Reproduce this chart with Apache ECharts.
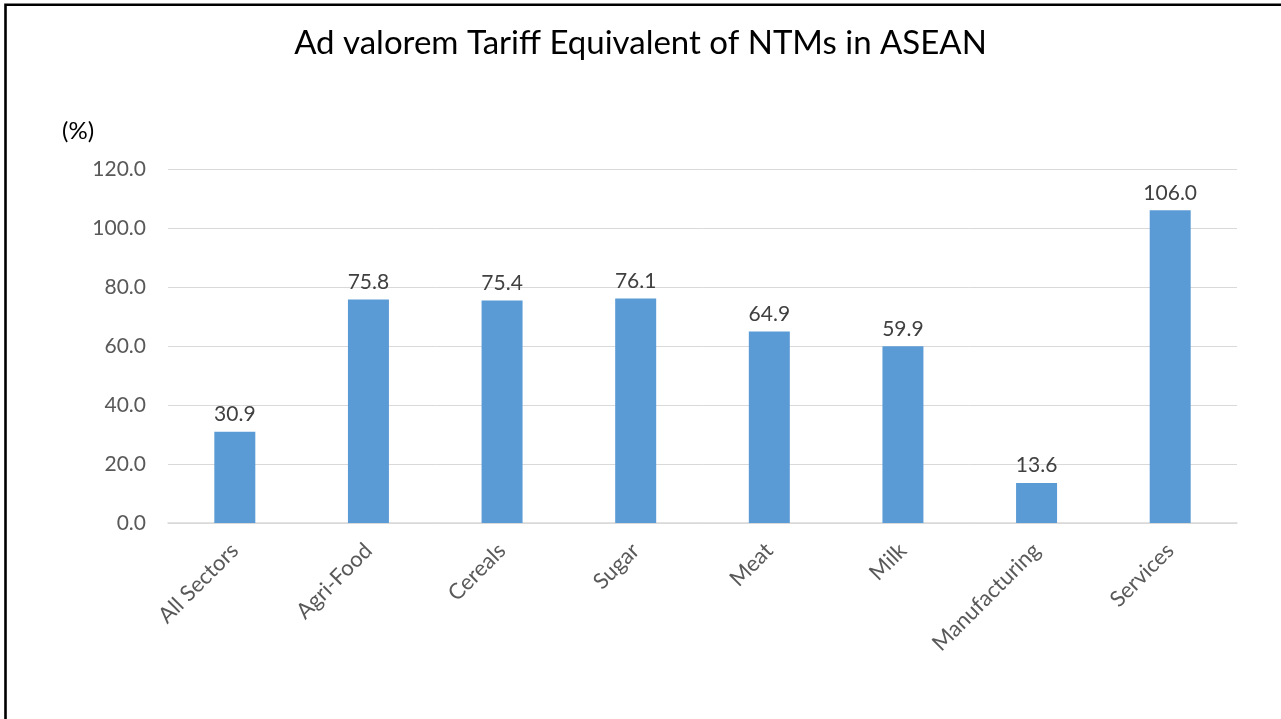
<!DOCTYPE html>
<html>
<head>
<meta charset="utf-8">
<script src="https://cdn.jsdelivr.net/npm/echarts@6/dist/echarts.min.js"></script>
<style>html,body{margin:0;padding:0;background:#fff}#c{width:1281px;height:719px}</style>
</head>
<body>
<div id="c"></div>
<script>
const titleText = 'Ad valorem Tariff Equivalent of NTMs in ASEAN';
const categories = ['All Sectors', 'Agri-Food', 'Cereals', 'Sugar', 'Meat', 'Milk', 'Manufacturing', 'Services'];
const values = [30.9, 75.8, 75.4, 76.1, 64.9, 59.9, 13.6, 106.0];
const yMin = 0, yMax = 120, yStep = 20;
const unitLabel = '(%)';

const FONT = 'Lato, "Open Sans", sans-serif';
const chart = echarts.init(document.getElementById('c'), null, {renderer: 'canvas'});
chart.setOption({
  backgroundColor: '#ffffff',
  animation: false,
  title: {
    text: titleText,
    left: 'center',
    top: 22,
    textStyle: {fontFamily: FONT, fontSize: 33, fontWeight: 'normal', color: '#000000'}
  },
  graphic: [
    {type: 'rect', shape: {x: 5.5, y: 4.7, width: 1400, height: 900},
     style: {fill: 'none', stroke: '#000000', lineWidth: 2.6}, silent: true},
    {type: 'text', left: 62, top: 119,
     style: {text: unitLabel, fontFamily: FONT, fontSize: 24, fill: '#000000'}}
  ],
  grid: {left: 168, right: 44, top: 169, bottom: 196, containLabel: false},
  xAxis: {
    type: 'category',
    data: categories,
    axisLine: {show: true, lineStyle: {color: '#D9D9D9', width: 1.5}},
    axisTick: {show: false},
    axisLabel: {rotate: 45, margin: 24, fontFamily: FONT, fontSize: 22, color: '#595959', interval: 0}
  },
  yAxis: {
    type: 'value',
    min: yMin, max: yMax, interval: yStep,
    axisLine: {show: false},
    axisTick: {show: false},
    splitLine: {lineStyle: {color: '#D9D9D9', width: 1}},
    axisLabel: {margin: 22, fontFamily: FONT, fontSize: 21, color: '#595959',
      formatter: v => v.toFixed(1)}
  },
  series: [{
    type: 'bar',
    data: values,
    barWidth: 41,
    itemStyle: {color: '#5B9BD5'},
    label: {show: true, position: 'top', distance: 7, fontFamily: FONT, fontSize: 21, color: '#404040',
      formatter: p => p.value.toFixed(1)}
  }]
});
</script>
</body>
</html>
